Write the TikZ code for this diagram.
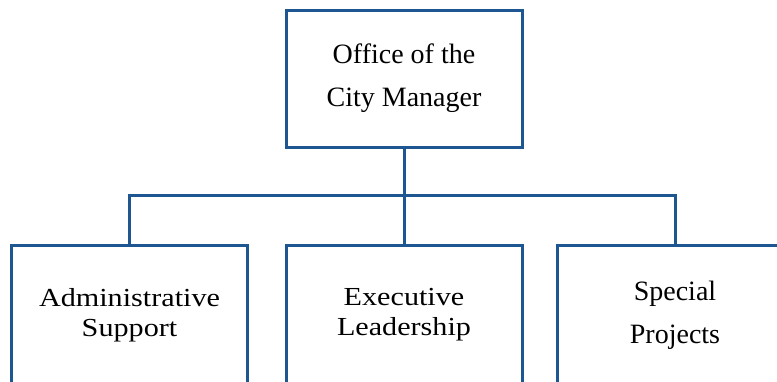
\documentclass[tikz,border=0pt]{standalone}
\usepackage{fontspec}
\setmainfont{Liberation Serif}
\newfontfamily\widefont{Liberation Serif}[FakeStretch=1.16]
\usepackage{tikz}
\usetikzlibrary{positioning}
\definecolor{orgblue}{RGB}{29,86,144}
\tikzset{unit/.style = {rectangle,draw=orgblue,line width=3pt,align=center,minimum width=236pt},
         big/.style = {font=\fontsize{28}{43}\selectfont},
         small/.style = {font=\widefont\fontsize{26}{30}\selectfont},
         link/.style = {draw=orgblue,line width=3pt}}

\begin{document}
\begin{tikzpicture}[x=1pt,y=-1pt]
        \useasboundingbox (0,0) rectangle (777,381);
        \clip (0,0) rectangle (777,381);
        \node [unit,big,minimum height=137pt] (mgr) at (404,78.5) {Office of the\\City Manager};
        \node [unit,small,minimum height=140pt] (admin) at (129.5,315) {Administrative\\Support};
        \node [unit,small,minimum height=140pt] (exec) at (404,315) {Executive\\Leadership};
        \node [unit,big,minimum height=140pt] (spec) at (675,315) {Special\\Projects};
        \coordinate (bus) at (404,195);
        \draw [link] (mgr) -- (exec);
        \draw [link] (admin) |- (bus) -| (spec);
    \end{tikzpicture}
\end{document}
